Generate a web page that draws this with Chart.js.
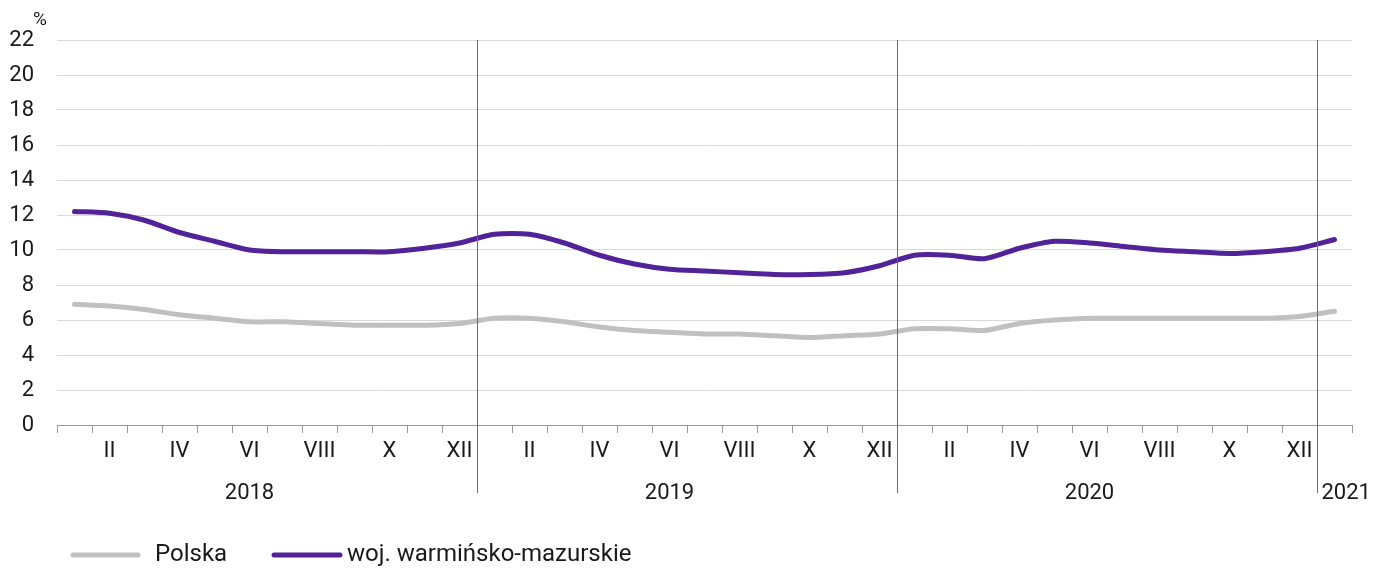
<!DOCTYPE html>
<html>
<head>
<meta charset="utf-8">
<script src="https://cdn.jsdelivr.net/npm/chart.js@4"></script>
<style>
  html, body { margin: 0; padding: 0; background: #fff; }
  #wrap { width: 1373px; height: 568px; position: relative; }
</style>
</head>
<body>
<div id="wrap"><canvas id="chart"></canvas></div>
<script>
// monthly data, I 2018 - I 2021
const monthTicks = [
  '', 'II', '', 'IV', '', 'VI', '', 'VIII', '', 'X', '', 'XII',
  '', 'II', '', 'IV', '', 'VI', '', 'VIII', '', 'X', '', 'XII',
  '', 'II', '', 'IV', '', 'VI', '', 'VIII', '', 'X', '', 'XII',
  ''
]
const years = ['2018', '2019', '2020', '2021']
const yearLabelAt = [5, 17, 29, 36]   // month index under which the year is written
const yearStartAt = [0, 12, 24, 36]   // first month of each year

const polska = [
  6.9, 6.8, 6.6, 6.3, 6.1, 5.9, 5.9, 5.8, 5.7, 5.7, 5.7, 5.8,
  6.1, 6.1, 5.9, 5.6, 5.4, 5.3, 5.2, 5.2, 5.1, 5.0, 5.1, 5.2,
  5.5, 5.5, 5.4, 5.8, 6.0, 6.1, 6.1, 6.1, 6.1, 6.1, 6.1, 6.2,
  6.5
]
const warmMaz = [
  12.2, 12.1, 11.7, 11.0, 10.5, 10.0, 9.9, 9.9, 9.9, 9.9, 10.1, 10.4,
  10.9, 10.9, 10.4, 9.7, 9.2, 8.9, 8.8, 8.7, 8.6, 8.6, 8.7, 9.1,
  9.7, 9.7, 9.5, 10.1, 10.5, 10.4, 10.2, 10.0, 9.9, 9.8, 9.9, 10.1,
  10.6
]

const seriesNames = ['Polska', 'woj. warmińsko-mazurskie']
const GRAY = '#c0c0c0'
const PURPLE = '#522398'
const FONT = 'Roboto, "Open Sans", sans-serif'
const TEXT = '#1a1a1a'

Chart.defaults.font.family = FONT
Chart.defaults.color = TEXT

// year separators, year labels, % unit and the legend
const extras = {
  id: 'extras',
  afterDraw(chart) {
    const { ctx, chartArea } = chart
    const x = chart.scales.x
    const sepX = (i) => Math.round((x.getPixelForValue(i - 1) + x.getPixelForValue(i)) / 2) + 0.5
    ctx.save()

    ctx.strokeStyle = '#6b6b6b'
    ctx.lineWidth = 1
    yearStartAt.slice(1).forEach(i => {
      const px = sepX(i)
      ctx.beginPath()
      ctx.moveTo(px, chartArea.top)
      ctx.lineTo(px, chartArea.bottom + 68)
      ctx.stroke()
    })

    ctx.fillStyle = TEXT
    ctx.font = '22px ' + FONT
    ctx.textAlign = 'center'
    ctx.textBaseline = 'middle'
    years.forEach((y, k) => {
      let cx = x.getPixelForValue(yearLabelAt[k])
      if (k > 0) {
        const half = ctx.measureText(y).width / 2
        cx = Math.max(cx, sepX(yearStartAt[k]) + 4 + half)
      }
      ctx.fillText(y, cx, chartArea.bottom + 68)
    })

    ctx.font = '19px ' + FONT
    ctx.fillText('%', 40, 20)

    // legend
    const ly = 555
    const items = [
      { name: seriesNames[0], color: GRAY, x0: 73, x1: 138, tx: 155 },
      { name: seriesNames[1], color: PURPLE, x0: 274, x1: 340, tx: 347 }
    ]
    ctx.lineWidth = 5
    ctx.lineCap = 'round'
    ctx.font = '24px ' + FONT
    ctx.textAlign = 'left'
    items.forEach(it => {
      ctx.strokeStyle = it.color
      ctx.beginPath()
      ctx.moveTo(it.x0, ly)
      ctx.lineTo(it.x1, ly)
      ctx.stroke()
      ctx.fillText(it.name, it.tx, ly)
    })
    ctx.restore()
  }
}

new Chart(document.getElementById('chart'), {
  type: 'line',
  data: {
    labels: monthTicks.map((t, i) => String(i)),
    datasets: [
      {
        label: seriesNames[0],
        data: polska,
        borderColor: GRAY,
        backgroundColor: GRAY,
        borderWidth: 5,
        pointRadius: 0,
        tension: 0.25,
        borderCapStyle: 'round'
      },
      {
        label: seriesNames[1],
        data: warmMaz,
        borderColor: PURPLE,
        backgroundColor: PURPLE,
        borderWidth: 5,
        pointRadius: 0,
        tension: 0.25,
        borderCapStyle: 'round'
      }
    ]
  },
  options: {
    responsive: true,
    maintainAspectRatio: false,
    animation: false,
    layout: { padding: { top: 40, right: 21, left: 0, bottom: 0 } },
    plugins: {
      legend: { display: false },
      tooltip: { enabled: false }
    },
    scales: {
      x: {
        offset: true,
        grid: {
          offset: true,
          drawOnChartArea: false,
          drawTicks: true,
          tickLength: 8,
          color: '#999'
        },
        border: { color: '#999', width: 1 },
        ticks: {
          autoSkip: false,
          maxRotation: 0,
          padding: 5,
          font: { size: 22 },
          color: TEXT,
          callback: (v, i) => monthTicks[i]
        },
        afterFit: (s) => { s.height = 143 }
      },
      y: {
        min: 0,
        max: 22,
        grid: { color: '#d9d9d9', drawTicks: false },
        border: { display: false },
        ticks: {
          stepSize: 2,
          padding: 23,
          font: { size: 22 },
          color: TEXT
        },
        afterFit: (s) => { s.width = 57 }
      }
    }
  },
  plugins: [extras]
})
</script>
</body>
</html>
